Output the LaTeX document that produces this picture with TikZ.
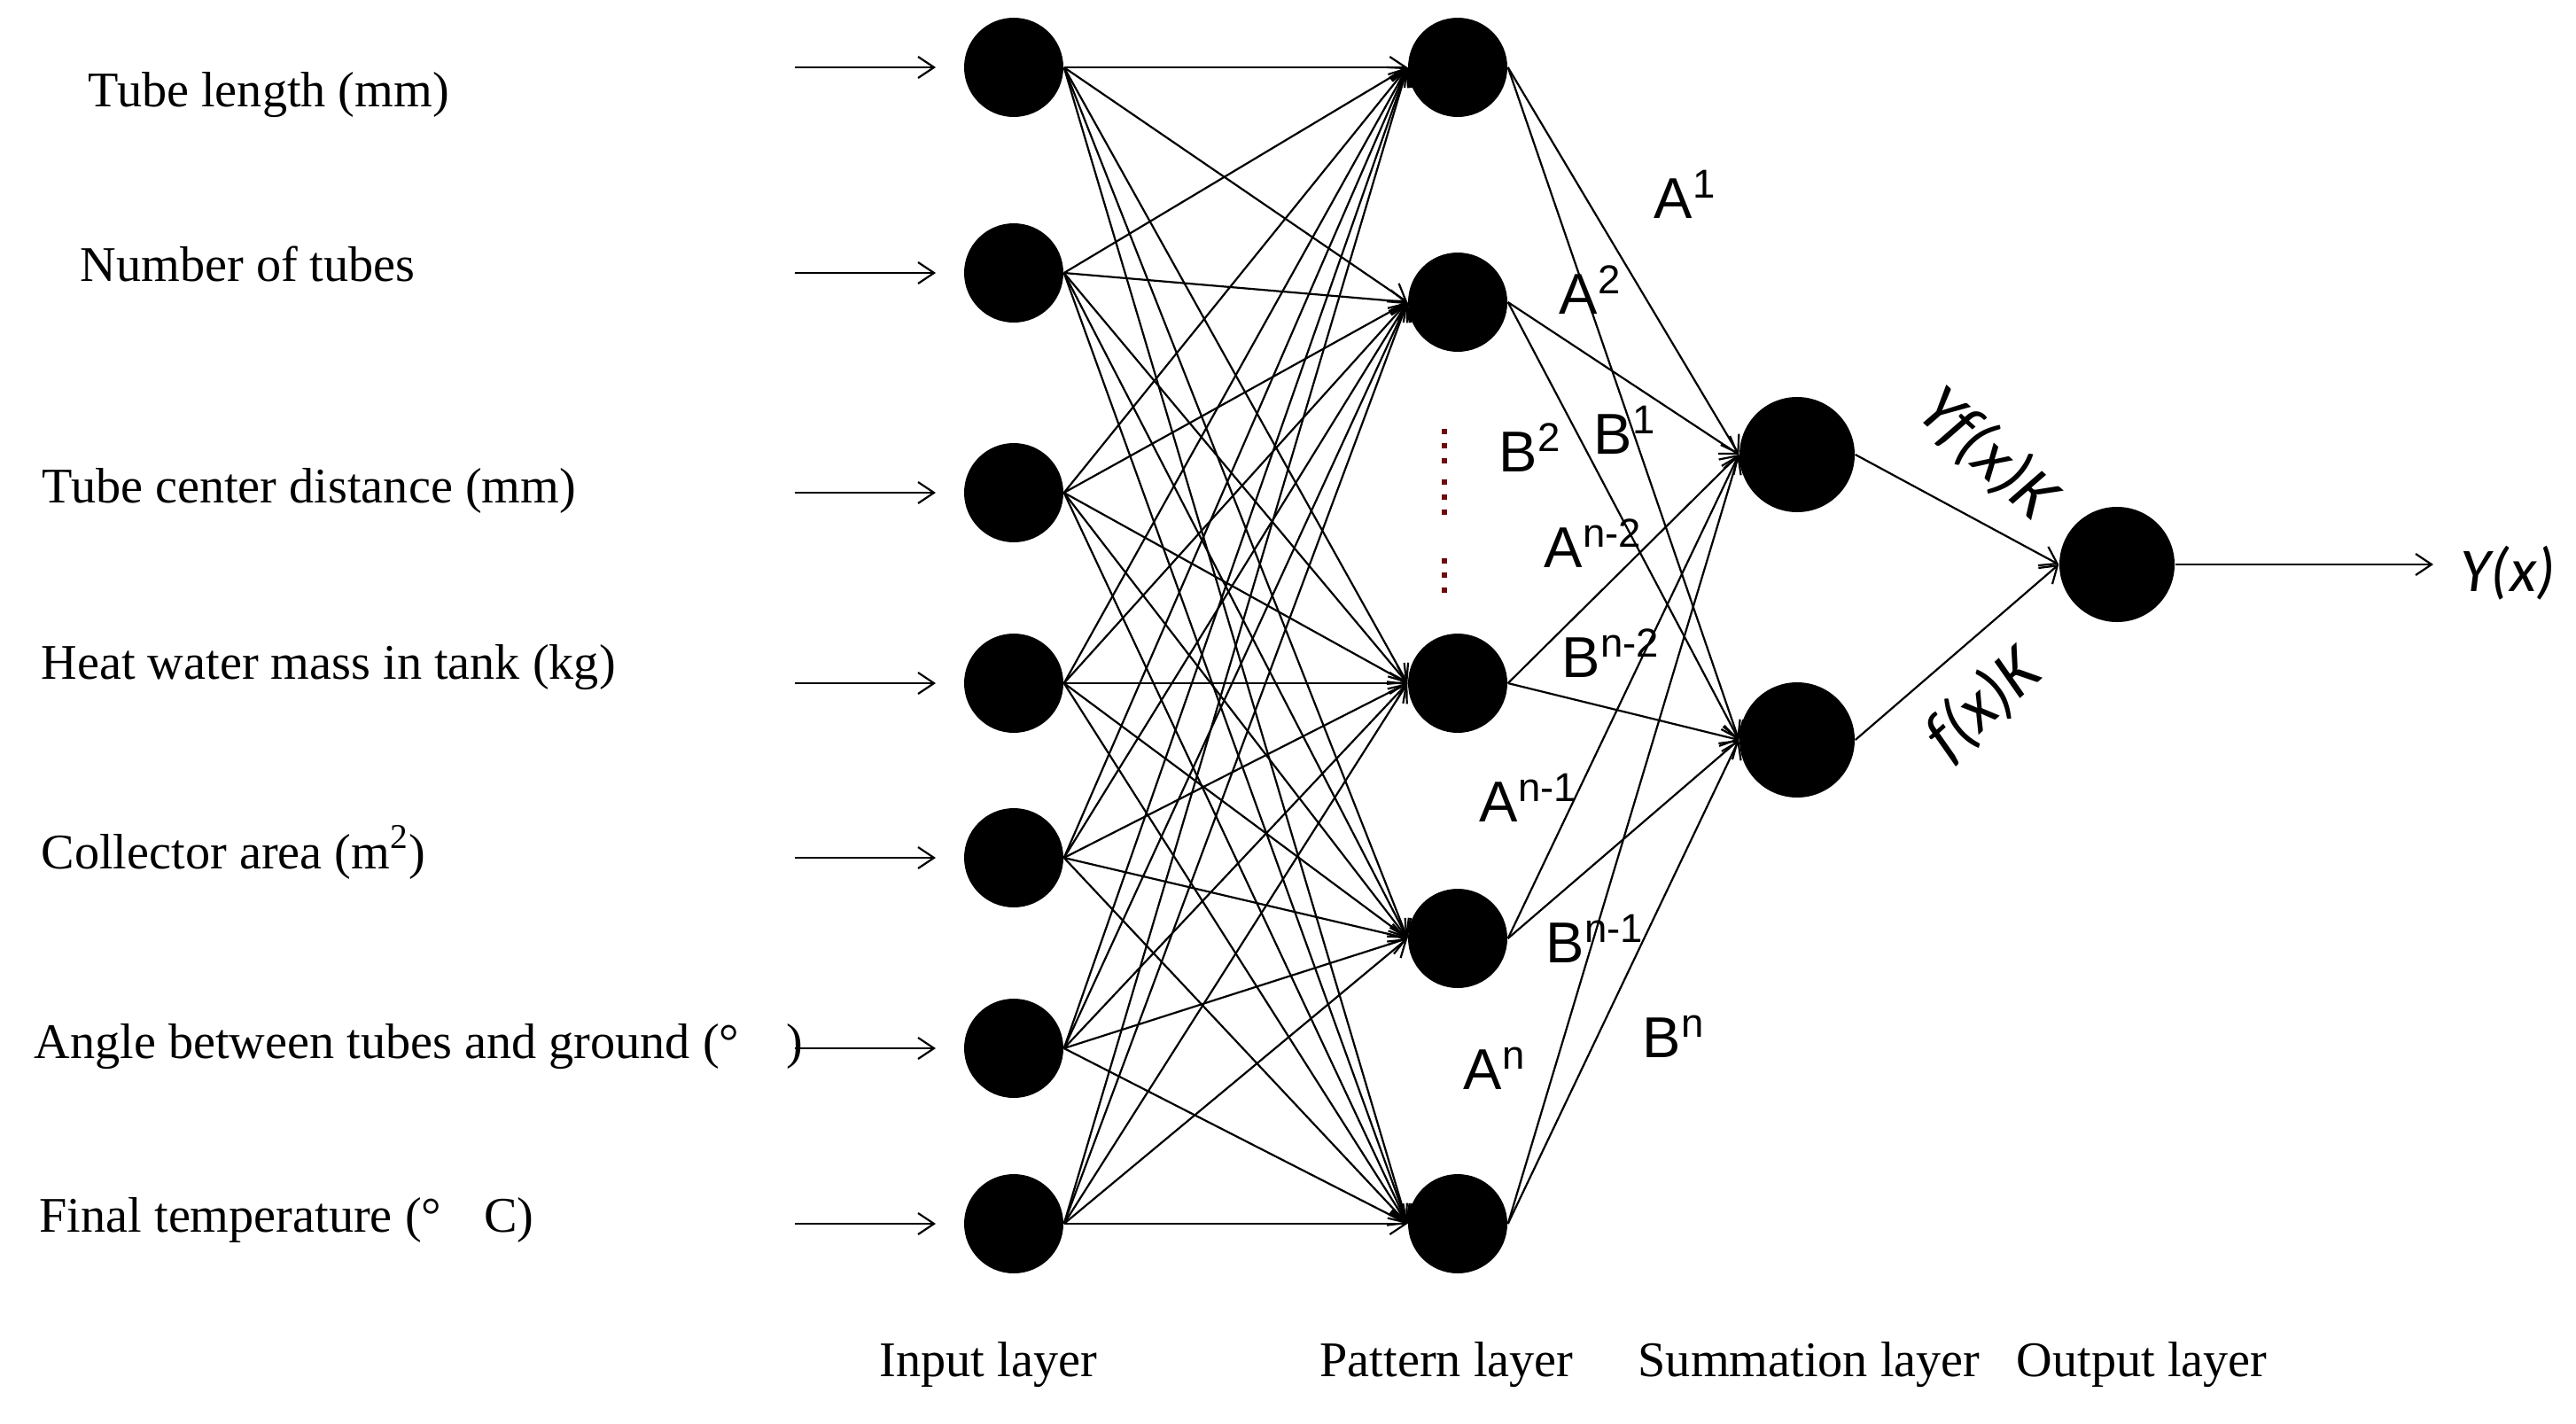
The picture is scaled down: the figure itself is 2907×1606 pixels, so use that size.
\documentclass[tikz,border=0pt]{standalone}
\usepackage{fontspec}
\setmainfont{Liberation Serif}
\newfontfamily\wsans{Liberation Sans}
\newfontfamily\calit{Carlito}
\usetikzlibrary{arrows.meta}
\definecolor{dotred}{RGB}{110,10,10}
\begin{document}
\begin{tikzpicture}[x=0.1mm,y=-0.1mm,
  neuron/.style={circle,fill=black,draw=none,inner sep=0pt,minimum size=11.2mm},
  bigneuron/.style={neuron,minimum size=13mm},
  conn/.style={line width=0.22mm,-{Straight Barb[length=1.8mm,width=2.4mm,line width=0.22mm]}},
  inlab/.style={anchor=base west,inner sep=0pt,font=\fontsize{16}{19}\selectfont},
  wlab/.style={anchor=base west,inner sep=0pt,font=\wsans\fontsize{18.5}{22}\selectfont},
  flab/.style={inner sep=0pt,font=\calit\itshape\fontsize{20}{24}\selectfont},
  rlab/.style={flab,font=\calit\itshape\fontsize{22}{26}\selectfont},
  dotmark/.style={fill=dotred,draw=none}]
\fill[white] (0,0) rectangle (2907,1606);
\useasboundingbox (0,0) rectangle (2907,1606);

% input layer
\foreach \y [count=\i] in {76,308,556,771,968,1183,1381} {
  \node[neuron] (i\i) at (1144,\y) {};
  \coordinate (s\i) at (897,\y);
  \coordinate (e\i) at (1056,\y);
}
% pattern layer
\foreach \y [count=\j] in {76,341,771,1059,1381}
  \node[neuron] (p\j) at (1645,\y) {};
% summation and output
\node[bigneuron] (u1) at (2028,513) {};
\node[bigneuron] (u2) at (2028,835) {};
\node[bigneuron] (o) at (2389,637) {};
\coordinate (yend) at (2746,637);

% connections
\foreach \i in {1,...,7} {
  \draw[conn] (s\i) -- (e\i);
  \foreach \j in {1,...,5}
    \draw[conn] (i\i.east) -- (p\j.west);
}
\foreach \j in {1,...,5} {
  \draw[conn] (p\j.east) -- (u1.west);
  \draw[conn] (p\j.east) -- (u2.west);
}
\draw[conn] (u1.east) -- (o.west);
\draw[conn] (u2.east) -- (o.west);
\draw[conn] (o.east) -- (yend);

% dotted ellipsis
\foreach \y in {487,503,520,544,561,578,633,649,666}
  \fill[dotmark] (1627,\y-3) rectangle (1633,\y+3);

% input labels
\node[inlab] (t1) at (99,120) {Tube length (mm)};
\node[inlab] (t2) at (90,317) {Number of tubes};
\node[inlab] (t3) at (47,567) {Tube center distance (mm)};
\node[inlab] (t4) at (46,766) {Heat water mass in tank (kg)};
\node[inlab] (t5) at (46,980) {Collector area (m\textsuperscript{2})};
\node[inlab] (t6) at (38,1194) {Angle between tubes and ground (°\hspace{0.95em})};
\node[inlab] (t7) at (44,1390) {Final temperature (°\hspace{0.85em}C)};

% layer labels
\node[inlab] (l1) at (992,1553) {Input layer};
\node[inlab] (l2) at (1489,1553) {Pattern layer};
\node[inlab] (l3) at (1848,1553) {Summation layer};
\node[inlab] (l4) at (2275,1553) {Output layer};

% weight labels
\node[wlab] (wa1) at (1866,246) {A\textsuperscript{1}};
\node[wlab] (wa2) at (1759,354) {A\textsuperscript{2}};
\node[wlab] (wb2) at (1691,532) {B\textsuperscript{2}};
\node[wlab] (wb1) at (1798,512) {B\textsuperscript{1}};
\node[wlab] (wan2) at (1742,640) {A\textsuperscript{n-2}};
\node[wlab] (wbn2) at (1762,764) {B\textsuperscript{n-2}};
\node[wlab] (wan1) at (1669,927) {A\textsuperscript{n-1}};
\node[wlab] (wbn1) at (1744,1086) {B\textsuperscript{n-1}};
\node[wlab] (wan) at (1651,1229) {A\textsuperscript{n}};
\node[wlab] (wbn) at (1853,1193) {B\textsuperscript{n}};

% output labels
\node[rlab,rotate=-42] (fy) at (2243,512) {Yf(x)K};
\node[rlab,rotate=42] (ff) at (2238,795) {f(x)K};
\node[flab,anchor=west] (yx) at (2776,647) {Y(x)};
\end{tikzpicture}
\end{document}
